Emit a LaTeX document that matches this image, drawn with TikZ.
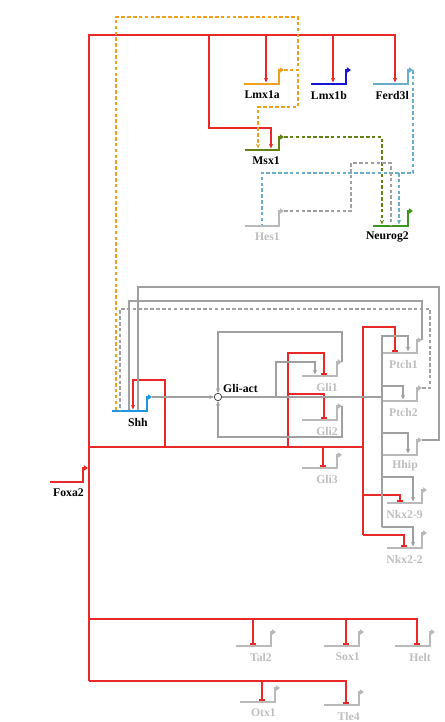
\documentclass[tikz,border=0pt]{standalone}
\usepackage{fontspec}
\setmainfont{Liberation Serif}
\usepackage{tikz}
\usetikzlibrary{arrows.meta, positioning, calc}
\definecolor{linkred}{RGB}{235, 40, 40}
\definecolor{linkgray}{RGB}{160, 160, 160}
\definecolor{offbar}{RGB}{185, 185, 185}
\definecolor{offtext}{RGB}{190, 190, 190}
\definecolor{lmxorange}{RGB}{240, 160, 30}
\definecolor{lmxblue}{RGB}{20, 20, 210}
\definecolor{ferdcyan}{RGB}{105, 175, 205}
\definecolor{msxolive}{RGB}{100, 130, 20}
\definecolor{ngngreen}{RGB}{60, 150, 30}
\definecolor{shhblue}{RGB}{30, 150, 230}

% gene glyph: name, left x, right x, bar y, bend y, colour, label style, label
\newcommand{\genesym}[8]{%
  \coordinate (#1-bar) at (#2,#4);
  \coordinate (#1-out) at (#3+5,#5);
  \draw[genebar, color=#6] (#1-bar) -- (#3,#4) -- (#3,#5) -- (#1-out);
  \node[#7, anchor=east] (#1) at (#3+1,#4+11) {#8};
}

\begin{document}
\begin{tikzpicture}[
    x=0.03cm, y=-0.03cm,
    >=Stealth,
    font=\fontsize{10}{12}\selectfont,
    genebar/.style={line width=1.6pt, -{Triangle[length=3.5pt, width=4.5pt]}},
    onlabel/.style={font=\bfseries, text=black, inner sep=0pt},
    offlabel/.style={font=\bfseries, text=offtext, inner sep=0pt},
    redline/.style={-, line width=0.9pt, color=linkred},
    redact/.style={redline, -{Stealth[length=4pt, width=3.5pt]}},
    redrep/.style={redline, -{Bar[width=4.5pt]}},
    grayline/.style={-, line width=0.9pt, color=linkgray},
    grayact/.style={grayline, -{Stealth[length=4pt, width=3.5pt]}},
    graydash/.style={grayline, dash pattern=on 3pt off 2pt},
    orangedash/.style={-, line width=0.9pt, color=lmxorange, dash pattern=on 3pt off 2pt},
    cyandash/.style={-, line width=0.9pt, color=ferdcyan, dash pattern=on 3pt off 2pt},
    olivedash/.style={-, line width=0.9pt, color=msxolive, dash pattern=on 3pt off 2pt},
    dashact/.style={-{Stealth[length=4pt, width=3.5pt]}},
    hub/.style={circle, draw=black!80, fill=white, line width=0.6pt,
                minimum size=0.22cm, inner sep=0pt},
]
\useasboundingbox (0,0) rectangle (444,722);

% ============================================================
% GENES
% ============================================================
\genesym{lmxa}{244}{279}{84}{70}{lmxorange}{onlabel}{Lmx1a}
\genesym{lmxb}{311}{346}{84}{70}{lmxblue}{onlabel}{Lmx1b}
\genesym{ferd}{373}{408}{84}{70}{ferdcyan}{onlabel}{Ferd3l}
\genesym{msx}{245}{279}{150}{137}{msxolive}{onlabel}{Msx1}
\genesym{hes}{245}{279}{226}{211}{offbar}{offlabel}{Hes1}
\genesym{neurog}{373}{408}{226}{211}{ngngreen}{onlabel}{Neurog2}
\genesym{shh}{112}{147}{411}{397}{shhblue}{onlabel}{Shh}
\genesym{foxa}{50}{83}{482}{468}{linkred}{onlabel}{Foxa2}

\genesym{glia}{302}{337}{376}{362}{offbar}{offlabel}{Gli1}
\genesym{glib}{302}{337}{420}{406}{offbar}{offlabel}{Gli2}
\genesym{glic}{302}{337}{468}{455}{offbar}{offlabel}{Gli3}
\genesym{ptcha}{382}{417}{353}{340}{offbar}{offlabel}{Ptch1}
\genesym{ptchb}{382}{417}{401}{388}{offbar}{offlabel}{Ptch2}
\genesym{hhip}{382}{417}{455}{440}{offbar}{offlabel}{Hhip}
\genesym{nkxa}{387}{422}{503}{490}{offbar}{offlabel}{Nkx2-9}
\genesym{nkxb}{387}{422}{548}{533}{offbar}{offlabel}{Nkx2-2}

\genesym{tal}{236}{271}{646}{632}{offbar}{offlabel}{Tal2}
\genesym{sox}{324}{359}{646}{632}{offbar}{offlabel}{Sox1}
\genesym{helt}{395}{430}{646}{632}{offbar}{offlabel}{Helt}
\genesym{otx}{240}{275}{702}{688}{offbar}{offlabel}{Otx1}
\genesym{tle}{324}{359}{705}{692}{offbar}{offlabel}{Tle4}

\node[hub] (gliact) at (218,397) {};
\node[onlabel, anchor=west] (gliact-lbl) at (223,388) {Gli-act};

% ============================================================
% FOXA2 OUTPUT (red)
% ============================================================
\coordinate (bus-top) at (89,35);
\coordinate (row-m) at (89,447);
\coordinate (row-a) at (89,619);
\coordinate (row-b) at (89,681);

\coordinate (lmxa-in) at (266,82.5);
\coordinate (lmxb-in) at (333,82.5);
\coordinate (ferd-in) at (395,82.5);
\coordinate (msx-br) at (209,128);
\coordinate (msx-in) at (271,148.5);
\draw[redact] (row-b) -- (bus-top) -| (ferd-in);
\draw[redact] (lmxa-in |- bus-top) -- (lmxa-in);
\draw[redact] (lmxb-in |- bus-top) -- (lmxb-in);
\draw[redact] (msx-br |- bus-top) -- (msx-br) -| (msx-in);

\coordinate (shh-br) at (165,380);
\coordinate (shh-in) at (133,409.5);
\draw[redact] (shh-br |- row-m) -- (shh-br) -| (shh-in);

% middle row
\coordinate (pt-br) at (363,327);
\coordinate (nk9-br) at (363,495);
\coordinate (nk2-br) at (363,535);
\coordinate (ptcha-in) at (395,351.5);
\coordinate (nkxa-in) at (400,501.5);
\coordinate (nkxb-in) at (404,546.5);
\draw[redline] (row-m) -- (row-m -| pt-br);
\draw[redrep] (nk2-br) -- (pt-br) -| (ptcha-in);
\draw[redrep] (nk9-br) -| (nkxa-in);
\draw[redrep] (nk2-br) -| (nkxb-in);

\coordinate (gla-br) at (288,353);
\coordinate (glb-br) at (288,394);
\coordinate (glia-in) at (324,374.5);
\coordinate (glib-in) at (324,418.5);
\coordinate (glic-in) at (323,466.5);
\draw[redrep] (gla-br |- row-m) -- (gla-br) -| (glia-in);
\draw[redrep] (glb-br) -| (glib-in);
\draw[redrep] (glic-in |- row-m) -- (glic-in);

% lower rows
\coordinate (tal-in) at (253,644.5);
\coordinate (sox-in) at (346,644.5);
\coordinate (helt-in) at (417,644.5);
\coordinate (otx-in) at (262,700.5);
\coordinate (tle-in) at (346,703.5);
\draw[redrep] (row-a) -| (helt-in);
\draw[redrep] (tal-in |- row-a) -- (tal-in);
\draw[redrep] (sox-in |- row-a) -- (sox-in);
\draw[redrep] (row-b) -| (tle-in);
\draw[redrep] (otx-in |- row-b) -- (otx-in);

% ============================================================
% SHH / GLI CIRCUIT (gray)
% ============================================================
\draw[grayact] (shh-out) -- (gliact);

\coordinate (pb-mid) at (382,397);
\coordinate (pb-top) at (382,336);
\coordinate (pb-bot) at (382,527);
\coordinate (pb2-br) at (382,386);
\coordinate (pb3-br) at (382,433);
\coordinate (pb4-br) at (382,477);
\draw[grayline] (gliact) -- (pb-mid);
\draw[grayact] (pb-bot) -- (pb-top) -| (408,351.5);
\draw[grayact] (pb2-br) -| (403,399.5);
\draw[grayact] (pb3-br) -| (408,453.5);
\draw[grayact] (pb4-br) -| (413,501.5);
\draw[grayact] (pb-bot) -| (413,546.5);

\coordinate (ga-br) at (276,362);
\coordinate (ga-top) at (342,332);
\coordinate (gb-bot) at (342,437);
\draw[grayact] (ga-br |- gliact) -- (ga-br) -| (315,374.5);
\draw[grayact] (glia-out) -| (ga-top) -| (gliact.north);
\draw[grayact] (glib-out) -| (gb-bot) -| (gliact.south);

% feedback onto Shh
\coordinate (pa-c) at (422,301);
\coordinate (pc-c) at (430,309);
\coordinate (hh-c) at (439,287);
\draw[grayline] (ptcha-out) -| (pa-c) -| (129,410);
\draw[graydash] (ptchb-out) -| (pc-c) -| (120,410);
\draw[grayline] (hhip-out) -| (hh-c) -| (138,410);

% ============================================================
% UPPER DASHED LINKS
% ============================================================
\coordinate (la-c) at (298,17);
\coordinate (la-d) at (298,107);
\draw[orangedash] (lmxa-out) -| (la-c) -| (116,410);
\draw[orangedash, dashact] (lmxa-out) -| (la-d) -| (258,148.5);

\coordinate (fd-c) at (413,173);
\coordinate (fd-br) at (399,173);
\draw[cyandash] (ferd-out) -| (fd-c) -| (262,225);
\draw[cyandash, dashact] (fd-br) -- (399,224.5);

\draw[olivedash, dashact] (msx-out) -| (382,224.5);

\coordinate (hs-c) at (351,163);
\draw[graydash] (hes-out) -| (hs-c) -| (391,225);

\end{tikzpicture}
\end{document}
